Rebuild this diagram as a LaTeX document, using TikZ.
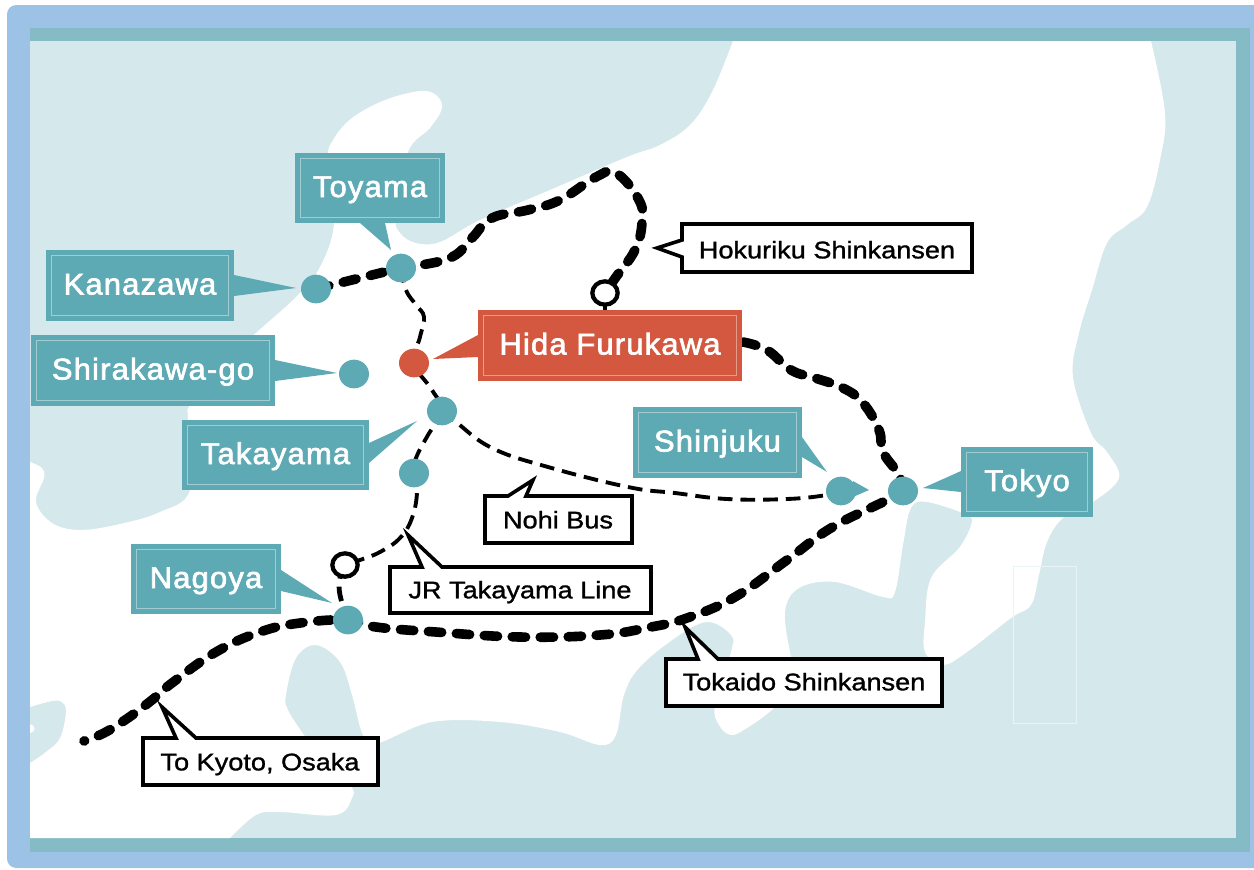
\documentclass[tikz,border=0pt]{standalone}
\usepackage{fontspec}
\setmainfont{Liberation Sans}
\newfontfamily\labelfont[FakeBold=2.2,LetterSpace=4,FakeStretch=1.03]{Liberation Sans}
\newfontfamily\calloutfont[FakeBold=1.2,FakeStretch=1.13]{Liberation Sans}
\definecolor{bluefr}{HTML}{9CC2E6}
\definecolor{tealfr}{HTML}{84BBC4}
\definecolor{seacol}{HTML}{D5E8EC}
\definecolor{tealbox}{HTML}{5DA9B4}
\definecolor{tealin}{HTML}{A2CCD2}
\definecolor{redbox}{HTML}{D4583F}
\definecolor{redin}{HTML}{E79C8B}
\usetikzlibrary{shapes.geometric}
\pgfdeclarelayer{ground}
\pgfdeclarelayer{rails}
\pgfsetlayers{ground,rails,main}
\tikzset{
  placebox/.style={rectangle,draw=none,fill=#1,inner sep=0pt,text=white,text height=16pt,text depth=2.5pt,
    font=\labelfont\fontsize{22.5}{26}\selectfont},
  rim/.style={draw=#1,line width=0.75pt},
  dotmark/.style={ellipse,fill=#1,draw=none,minimum width=22.5pt,minimum height=21.5pt,inner sep=0pt},
  opendot/.style={ellipse,fill=white,draw=black,line width=3.2pt,minimum width=19pt,minimum height=17.5pt,inner sep=0pt},
  railthick/.style={draw=black,line width=7.2pt,line cap=round,dash pattern=on 10pt off 11pt},
  railthin/.style={draw=black,line width=2.9pt,dash pattern=on 11pt off 6pt},
  calloutshape/.style={draw=black,fill=white,line width=2.7pt,line join=miter},
  callouttext/.style={inner sep=0pt,text=black,text height=13.5pt,text depth=1pt,font=\calloutfont\fontsize{18}{22}\selectfont},
  railcurve/.style={smooth,tension=0.7},
  coast/.style={smooth,tension=0.6},
}
\newcommand{\placelabel}[8]{% name,cx,cy,w,h,text,fill,rim
  \node[placebox=#7,minimum width=#4*0.75pt,minimum height=#5*0.75pt] (#1) at (#2,#3) {#6};
  \draw[rim=#8] ([xshift=4.6pt,yshift=4.6pt]#1.south west) rectangle ([xshift=-4.6pt,yshift=-4.6pt]#1.north east);
}
\begin{document}
\begin{tikzpicture}[x=0.75pt,y=-0.75pt]
\useasboundingbox (0,0) rectangle (1254,869);
\begin{pgfonlayer}{ground}
\fill[white] (0,0) rectangle (1254,869);
\fill[bluefr,rounded corners=7pt] (7,5) rectangle (1290,868);
\fill[tealfr] (30,28) rectangle (1250,852);
\fill[bluefr] (7,28) rectangle (30,860);
\fill[seacol] (30,41) rectangle (1236,838);
\fill[white]
  plot[coast] coordinates {(733,41) (712,92) (690,125) (660,145) (627,157) (550,190) (480,220) (440,242) (416,243) (400,233) (396,215) (408,152) (430,128) (442,108) (436,95) (420,91) (385,100) (352,118) (333,140) (328,160) (334,223) (320,267) (296,297) (256,333) (215,372) (190,405) (188,420) (190,490) (160,512) (120,524) (80,530) (52,523) (36,502) (44,478) (42,468) (30,462)}
  -- plot[coast] coordinates {(30,707) (52,701) (62,702) (66,712) (60,738) (46,752) (30,763)}
  -- (30,838) -- (230,838)
  -- plot[coast] coordinates {(230,838) (256,815) (280,812) (336,815) (352,798) (350,785) (320,755) (304,735) (288,710) (286,695) (296,658) (316,645) (340,662) (352,695) (363,735) (378,743) (432,722) (500,722) (560,732) (600,745) (616,735) (624,695) (639,668) (675,638) (707,622) (731,635) (731,652) (715,705) (719,725) (731,735) (747,728) (775,707) (795,680) (791,658) (785,612) (799,588) (835,582) (883,597) (895,592) (903,545) (911,508) (927,502) (967,515) (971,525) (959,548) (931,578) (925,622) (925,652) (943,665) (967,652) (1011,618) (1031,605) (1039,575) (1047,542) (1063,518) (1093,502) (1119,478) (1107,452) (1091,433) (1073,377) (1079,333) (1092,290) (1107,243) (1127,225) (1147,207) (1160,160) (1165,113) (1151,41)}
  -- cycle;
\fill[white] (30,724) .. controls (36,725) and (36,732) .. (30,733) -- cycle;
\draw[color=white!50!seacol,line width=0.75pt] (1013,566) rectangle (1076,723);
\end{pgfonlayer}
% stations
\node[dotmark=tealbox] (dKanazawa) at (316,289) {};
\node[dotmark=tealbox] (dToyama) at (401,268) {};
\node[dotmark=tealbox] (dShirakawa) at (354,374) {};
\node[dotmark=redbox] (dHida) at (414,363) {};
\node[dotmark=tealbox] (dTakayama) at (442,411) {};
\node[dotmark=tealbox] (dLower) at (414,473) {};
\node[dotmark=tealbox] (dNagoya) at (348,620) {};
\node[dotmark=tealbox] (dShinjuku) at (841,491) {};
\node[dotmark=tealbox] (dTokyo) at (903,491) {};
\node[opendot] (oHokuriku) at (605,293) {};
\node[opendot] (oTakayama) at (345,565) {};
\coordinate (stubEnd) at (605,314);
\coordinate (kyotoEnd) at (84,741);
\coordinate (hidaEdge) at (743,342);
\begin{pgfonlayer}{rails}
\draw[railthick] plot[railcurve] coordinates {(dKanazawa.center) (dToyama.center) (416,266) (452,257) (472,238) (492,218) (528,210) (560,200) (596,177) (616,173) (639,200) (642,223) (635,250) (616,277) (oHokuriku.center)};
\draw[black,line width=3pt] (oHokuriku.center) -- (stubEnd);
\draw[railthick] plot[railcurve] coordinates {(hidaEdge) (767,350) (791,370) (815,378) (843,388) (863,403) (879,430) (883,452) (899,475) (dTokyo.center)};
\draw[railthick,dash phase=9.5pt] plot[railcurve] coordinates {(kyotoEnd) (104,733) (128,718) (152,700) (172,683) (216,652) (260,632) (300,623) (dNagoya.center) (376,627) (436,632) (520,637) (600,635) (651,627) (687,618) (735,597) (787,560) (831,528) (883,502) (dTokyo.center)};
\draw[railthin] plot[railcurve] coordinates {(dToyama.center) (406,290) (416,305) (424,317) (420,337) (dHida.center) (432,390) (dTakayama.center) (428,435) (416,458) (dLower.center) (417,492) (412,518) (400,538) (380,552) (360,560) (oTakayama.center)};
\draw[railthin,line width=3.6pt] plot[railcurve] coordinates {(oTakayama.center) (340,578) (340,595) (dNagoya.center)};
\draw[railthin] plot[railcurve] coordinates {(dTakayama.center) (456,422) (492,448) (548,467) (628,487) (675,493) (727,499) (787,499) (827,495) (dShinjuku.center)};
\end{pgfonlayer}
\fill[tealbox] (853,481) -- (869,490) -- (853,497) -- cycle;
% pointers
\coordinate (tipKanazawa) at (296,288);
\coordinate (tipToyama) at (391,250);
\coordinate (tipShirakawa) at (337,373);
\coordinate (tipHida) at (433,359);
\coordinate (tipTakayama) at (417,421);
\coordinate (tipShinjuku) at (827,472);
\coordinate (tipTokyo) at (923,488);
\coordinate (tipNagoya) at (332,603);
\fill[tealbox] (234,275) -- (tipKanazawa) -- (234,296) -- cycle;
\fill[tealbox] (360,223) -- (tipToyama) -- (385,223) -- cycle;
\fill[tealbox] (275,360) -- (tipShirakawa) -- (275,381) -- cycle;
\fill[redbox] (478,335) -- (tipHida) -- (478,357) -- cycle;
\fill[tealbox] (369,443) -- (tipTakayama) -- (369,463) -- cycle;
\fill[tealbox] (802,437) -- (tipShinjuku) -- (802,457) -- cycle;
\fill[tealbox] (961,471) -- (tipTokyo) -- (961,492) -- cycle;
\fill[tealbox] (281,570) -- (tipNagoya) -- (281,591) -- cycle;
% place labels
\placelabel{Toyama}{370}{188}{150}{70}{Toyama}{tealbox}{tealin}
\placelabel{Kanazawa}{140}{285.5}{188}{71}{Kanazawa}{tealbox}{tealin}
\placelabel{Shirakawa}{153}{370.5}{244}{71}{Shirakawa-go}{tealbox}{tealin}
\placelabel{Hida}{610}{345.5}{264}{71}{Hida Furukawa}{redbox}{redin}
\placelabel{Takayama}{275.5}{455}{187}{70}{Takayama}{tealbox}{tealin}
\placelabel{Shinjuku}{717.5}{442.5}{169}{71}{Shinjuku}{tealbox}{tealin}
\placelabel{Tokyo}{1027}{482}{132}{70}{Tokyo}{tealbox}{tealin}
\placelabel{Nagoya}{206}{579}{150}{70}{Nagoya}{tealbox}{tealin}
% callouts
\draw[calloutshape] (682,224) -- (972,224) -- (972,272) -- (682,272) -- (682,257) -- (657,248) -- (682,240) -- cycle;
\node[callouttext] (cHokuriku) at (827,250) {Hokuriku Shinkansen};
\draw[calloutshape] (485,496) -- (508,496) -- (533,480) -- (526,496) -- (632,496) -- (632,543) -- (485,543) -- cycle;
\node[callouttext] (cNohi) at (558,520) {Nohi Bus};
\draw[calloutshape] (390,567) -- (422,567) -- (408,535) -- (442,567) -- (651,567) -- (651,613) -- (390,613) -- cycle;
\node[callouttext] (cJR) at (520,590) {JR Takayama Line};
\draw[calloutshape] (666,659) -- (698,659) -- (685,627) -- (718,659) -- (942,659) -- (942,706) -- (666,706) -- cycle;
\node[callouttext] (cTokaido) at (804,682) {Tokaido Shinkansen};
\draw[calloutshape] (143,738) -- (176,738) -- (162,707) -- (196,738) -- (378,738) -- (378,785) -- (143,785) -- cycle;
\node[callouttext] (cKyoto) at (260,762) {To Kyoto, Osaka};
\end{tikzpicture}
\end{document}
